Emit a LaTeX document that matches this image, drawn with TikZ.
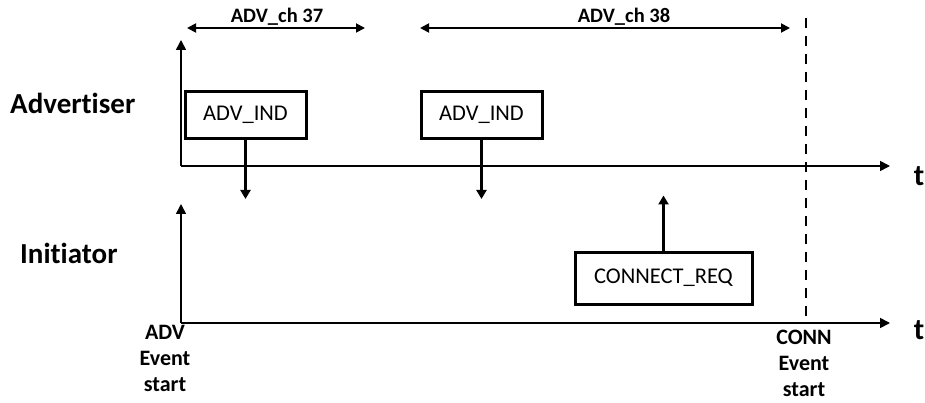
\documentclass[tikz,border=0pt]{standalone}
\usepackage{fontspec}
\setmainfont{Carlito}[Ligatures=NoCommon]
\usetikzlibrary{arrows.meta,positioning}

\begin{document}
\begin{tikzpicture}[x=1pt,y=-1pt,
    msgbox/.style={draw, line width=3pt, inner sep=0pt, font=\fontsize{22.5}{26}\selectfont},
    axis/.style={line width=1.6pt, -{Triangle[length=10pt,width=10pt]}},
    sig/.style={line width=2.8pt, -{Triangle[length=9pt,width=10pt]}},
    span/.style={line width=1.8pt, {Triangle[length=9pt,width=9pt]}-{Triangle[length=9pt,width=9pt]}},
    lbl/.style={font=\bfseries\fontsize{20.5}{24}\selectfont},
    role/.style={anchor=west, inner sep=0pt, font=\bfseries\fontsize{29}{32}\selectfont},
    evt/.style={align=center, inner sep=0pt, font=\bfseries\fontsize{22}{26}\selectfont}]
    % page size of the reference
    \useasboundingbox (0,0) rectangle (925,403);
    \def\ax{181}
    \def\ya{166}
    \def\yi{323}
    \def\xend{890}
    \def\xconn{806}

    % the two time axes
    \coordinate (a0) at (\ax,\ya);
    \coordinate (i0) at (\ax,\yi);
    \draw[axis] (a0) -- (\ax,40);
    \draw[axis] (a0) -- (\xend,\ya);
    \draw[axis] (i0) -- (\ax,204);
    \draw[axis] (i0) -- (\xend,\yi);
    \node[lbl, font=\bfseries\fontsize{30}{32}\selectfont] (ta) at (919,176) {t};
    \node[lbl, font=\bfseries\fontsize{30}{32}\selectfont] (ti) at (919,330) {t};

    % roles
    \node[role] (adv) at (10,103) {Advertiser};
    \node[role] (ini) at (20,253) {Initiator};

    % advertising packets
    \foreach \n/\xx in {1/245.5, 2/481.5} {
      \node[msgbox, minimum width=121pt, minimum height=47pt] (ind\n) at (\xx,115) {ADV\_IND};
      \draw[sig] (ind\n.south) -- ++(0,59);
    }
    \node[msgbox, minimum width=177pt, minimum height=52pt] (req) at (663.5,278) {CONNECT\_REQ};
    \draw[sig] (req.north) -- ++(0,-55);

    % channel spans
    \coordinate (c37a) at (187,28);
    \coordinate (c37b) at (365,28);
    \coordinate (c38a) at (420,28);
    \coordinate (c38b) at (790,28);
    \draw[span] (c37a) -- (c37b);
    \draw[span] (c38a) -- (c38b);
    \node[lbl] (ch37) at (277,17) {ADV\_ch 37};
    \node[lbl] (ch38) at (624,17) {ADV\_ch 38};

    % connection event start
    \draw[line width=2pt, dash pattern=on 10pt off 8pt] (\xconn,18) -- (\xconn,\yi);
    \node[evt] (advstart) at (165,358) {ADV\\Event\\start};
    \node[evt] (connstart) at (804,363) {CONN\\Event\\start};
\end{tikzpicture}
\end{document}
